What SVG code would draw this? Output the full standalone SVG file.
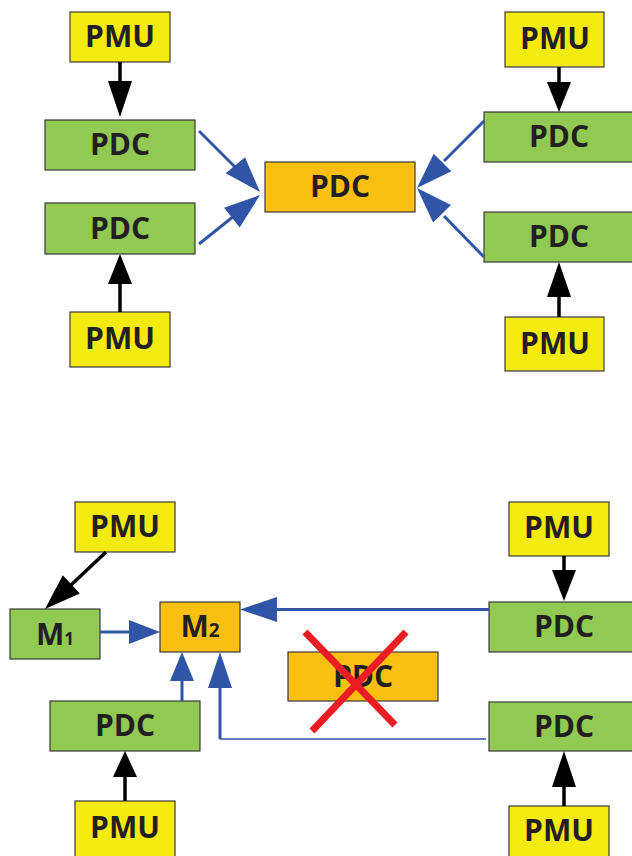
<svg xmlns="http://www.w3.org/2000/svg" width="632" height="856" viewBox="0 0 632 856">
  <style>
    .box { stroke: #3a3a3a; stroke-width: 1.2; }
    .pmu { fill: #F3EA0E; }
    .pdc { fill: #92C953; }
    .hub { fill: #FBBF12; }
    .lbl { font-family: "Open Sans", "Liberation Sans", sans-serif; font-weight: 700; font-size: 30px; fill: #231F20; text-anchor: middle; }
    .blk { stroke: #000; stroke-width: 3.5; fill: none; }
    .blkh { fill: #000; }
    .blu { stroke: #3155A6; stroke-width: 3; fill: none; }
    .bluh { fill: #3155A6; }
    .cross { stroke: #EC1C24; stroke-width: 7; }
  </style>
  <rect width="632" height="856" fill="#fff"/>

  <!-- upper network -->
  <g id="pmu-tl"><rect class="box pmu" x="70" y="12" width="100" height="50"/><text class="lbl" x="120" y="47">PMU</text></g>
  <g id="pdc-l1"><rect class="box pdc" x="45" y="120" width="150" height="50"/><text class="lbl" x="120" y="155">PDC</text></g>
  <g id="pdc-l2"><rect class="box pdc" x="45" y="203" width="150" height="51"/><text class="lbl" x="120" y="239">PDC</text></g>
  <g id="pmu-bl"><rect class="box pmu" x="70" y="312" width="100" height="55"/><text class="lbl" x="120" y="349">PMU</text></g>
  <g id="pdc-center"><rect class="box hub" x="265" y="162" width="150" height="50"/><text class="lbl" x="340" y="197">PDC</text></g>
  <g id="pmu-tr"><rect class="box pmu" x="505" y="12" width="99" height="55"/><text class="lbl" x="555" y="49">PMU</text></g>
  <g id="pdc-r1"><rect class="box pdc" x="484" y="112" width="150" height="50"/><text class="lbl" x="559" y="147">PDC</text></g>
  <g id="pdc-r2"><rect class="box pdc" x="484" y="212" width="150" height="50"/><text class="lbl" x="559" y="247">PDC</text></g>
  <g id="pmu-br"><rect class="box pmu" x="505" y="317" width="99" height="54"/><text class="lbl" x="555" y="354">PMU</text></g>

  <!-- lower network -->
  <g id="pmu-b-tl"><rect class="box pmu" x="75" y="502" width="100" height="50"/><text class="lbl" x="125" y="537">PMU</text></g>
  <g id="m1"><rect class="box pdc" x="10" y="609" width="90" height="50"/><text class="lbl" x="55" y="645">M<tspan font-size="17">1</tspan></text></g>
  <g id="m2"><rect class="box hub" x="160" y="602" width="80" height="50"/><text class="lbl" x="200" y="637">M<tspan font-size="19">2</tspan></text></g>
  <g id="pdc-b-l"><rect class="box pdc" x="50" y="701" width="150" height="50"/><text class="lbl" x="125" y="736">PDC</text></g>
  <g id="pmu-b-bl"><rect class="box pmu" x="75" y="801" width="100" height="56"/><text class="lbl" x="125" y="838">PMU</text></g>
  <g id="pmu-b-tr"><rect class="box pmu" x="509" y="502" width="100" height="54"/><text class="lbl" x="559" y="538">PMU</text></g>
  <g id="pdc-b-r1"><rect class="box pdc" x="489" y="602" width="150" height="50"/><text class="lbl" x="564" y="637">PDC</text></g>
  <g id="pdc-b-r2"><rect class="box pdc" x="489" y="702" width="150" height="49"/><text class="lbl" x="564" y="737">PDC</text></g>
  <g id="pmu-b-br"><rect class="box pmu" x="509" y="806" width="100" height="51"/><text class="lbl" x="559" y="841">PMU</text></g>
  <g id="pdc-failed">
    <rect class="box hub" x="288" y="652" width="150" height="49"/><text class="lbl" x="363" y="687">PDC</text>
    <line class="cross" x1="305" y1="632" x2="395" y2="725"/>
    <line class="cross" x1="406" y1="632" x2="312" y2="731"/>
  </g>

  <g id="connectors">
    <!-- upper: PMU to PDC -->
    <line class="blk" x1="120" y1="62" x2="120" y2="84"/><polygon class="blkh" points="108,81 132,81 120,117"/>
    <line class="blk" x1="120" y1="312" x2="120" y2="282"/><polygon class="blkh" points="108,284 132,284 120,254"/>
    <line class="blk" x1="559" y1="67" x2="559" y2="85"/><polygon class="blkh" points="547,82 571,82 559,112"/>
    <line class="blk" x1="559" y1="317" x2="559" y2="295"/><polygon class="blkh" points="547,297 571,297 559,262"/>
    <!-- upper: PDC to central PDC -->
    <line class="blu" x1="199" y1="131" x2="238" y2="170"/><polygon class="bluh" points="225.7,173.3 245,157.3 260,192"/>
    <line class="blu" x1="199" y1="244" x2="234" y2="216"/><polygon class="bluh" points="224.1,207.8 239.7,227.4 260,195"/>
    <line class="blu" x1="484" y1="121" x2="444" y2="161"/><polygon class="bluh" points="451.3,171.3 433.7,153.7 417,188"/>
    <line class="blu" x1="484" y1="257" x2="444" y2="216"/><polygon class="bluh" points="451,205.1 433.1,222.5 417,188"/>

    <!-- lower: PMU to PDC / M1 -->
    <line class="blk" x1="106" y1="552" x2="70" y2="586"/><polygon class="blkh" points="79.8,593.5 62.8,575.3 45,609"/>
    <line class="blk" x1="125" y1="801" x2="125" y2="775"/><polygon class="blkh" points="113,777 137,777 125,751"/>
    <line class="blk" x1="564" y1="556" x2="564" y2="573"/><polygon class="blkh" points="552,570 576,570 564,601"/>
    <line class="blk" x1="564" y1="806" x2="564" y2="785"/><polygon class="blkh" points="552,787 576,787 564,751"/>
    <!-- lower: rerouted links into M2 -->
    <line class="blu" x1="100" y1="632" x2="131" y2="632"/><polygon class="bluh" points="129,620 129,644 160,632"/>
    <line class="blu" x1="182" y1="701" x2="182" y2="679"/><polygon class="bluh" points="170,681 194,681 182,652"/>
    <line class="blu" x1="220" y1="739" x2="220" y2="686"/><polygon class="bluh" points="208,688 232,688 220,652"/>
    <line stroke="#3155A6" stroke-width="1.5" x1="220" y1="739" x2="486" y2="739"/>
    <line class="blu" x1="489" y1="609.5" x2="275" y2="609.5"/><polygon class="bluh" points="277,597 277,622 240,609.5"/>
  </g>
</svg>
